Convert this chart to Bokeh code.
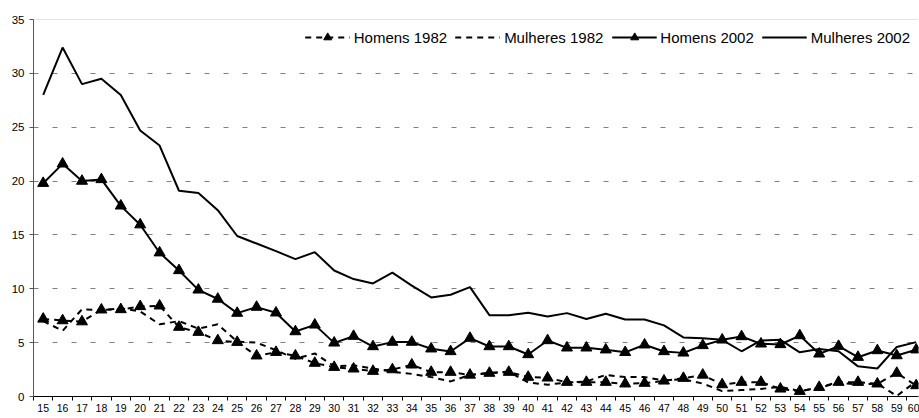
from bokeh.plotting import figure
from bokeh.models import FixedTicker, Span
from bokeh.embed import file_html
from bokeh.resources import INLINE

ages = list(range(15, 61))

homens_1982 = [7.2, 7.05, 6.95, 8.05, 8.08, 8.36, 8.42, 6.44, 5.97, 5.2,
               5.04, 3.78, 4.11, 3.78, 3.1, 2.72, 2.57, 2.35, 2.5, 2.94,
               2.26, 2.26, 2.0, 2.17, 2.26, 1.8, 1.73, 1.33, 1.33, 1.33,
               1.18, 1.24, 1.45, 1.7, 2.0, 1.11, 1.33, 1.33, 0.71, 0.49,
               0.86, 1.33, 1.33, 1.18, 2.17, 1.02]

mulheres_1982 = [7.0, 6.1, 8.1, 8.0, 8.2, 7.9, 6.7, 7.0, 6.3, 6.7,
                 5.1, 5.0, 4.3, 3.5, 4.0, 2.8, 2.9, 2.6, 2.3, 2.1,
                 1.8, 1.4, 2.0, 2.2, 2.3, 1.3, 1.1, 1.3, 1.4, 2.0,
                 1.8, 1.8, 1.5, 1.6, 1.2, 0.5, 0.6, 0.7, 0.9, 0.5,
                 0.8, 1.3, 1.1, 1.2, 0.05, 1.4]

homens_2002 = [19.8, 21.6, 20.0, 20.15, 17.7, 15.95, 13.35, 11.7, 9.9, 9.05,
               7.74, 8.3, 7.77, 6.03, 6.65, 4.98, 5.6, 4.64, 5.05, 5.05,
               4.43, 4.18, 5.42, 4.64, 4.64, 3.9, 5.2, 4.52, 4.52, 4.34,
               4.1, 4.8, 4.18, 4.05, 4.74, 5.26, 5.57, 4.89, 4.83, 5.66,
               3.96, 4.67, 3.65, 4.27, 3.8, 4.34]

mulheres_2002 = [28.0, 32.4, 29.0, 29.5, 28.0, 24.7, 23.3, 19.1, 18.9, 17.3,
                 14.9, 14.2, 13.5, 12.75, 13.4, 11.7, 10.9, 10.5, 11.5, 10.3,
                 9.2, 9.45, 10.15, 7.55, 7.55, 7.77, 7.43, 7.74, 7.2, 7.68,
                 7.15, 7.15, 6.6, 5.48, 5.4, 5.26, 4.2, 5.2, 5.26, 4.1,
                 4.4, 4.2, 2.8, 2.6, 4.6, 5.05]

y_ticks = [0, 5, 10, 15, 20, 25, 30, 35]

FONT = "Liberation Sans"

p = figure(width=919, height=418, output_backend="svg", toolbar_location=None,
           x_range=(14.5, 60.12), y_range=(0, 35),
           min_border_left=33, min_border_top=19, min_border_right=1,
           min_border_bottom=22)
p.outline_line_color = None
p.background_fill_color = "white"

p.xgrid.grid_line_color = None
p.ygrid.ticker = FixedTicker(ticks=y_ticks)
p.ygrid.grid_line_color = "#808080"
p.ygrid.grid_line_dash = "5 14"
p.ygrid.grid_line_width = 1

p.add_layout(Span(location=35, dimension="width", line_color="#c8c8c8", line_width=1))

p.xaxis.ticker = FixedTicker(ticks=ages, minor_ticks=[a - 0.5 for a in ages] + [60.5])
p.xaxis.major_tick_line_color = None
p.xaxis.major_tick_out = 0
p.xaxis.major_tick_in = 0
p.xaxis.minor_tick_out = 4
p.xaxis.minor_tick_in = 0
p.xaxis.minor_tick_line_color = "black"
p.xaxis.axis_line_color = "black"
p.xaxis.major_label_standoff = 3
p.xaxis.major_label_text_font = FONT
p.xaxis.major_label_text_font_size = "10.5px"
p.xaxis.major_label_text_color = "black"

p.yaxis.ticker = FixedTicker(ticks=y_ticks)
p.yaxis.minor_tick_line_color = None
p.yaxis.major_tick_out = 4
p.yaxis.major_tick_in = 0
p.yaxis.major_tick_line_color = "#555555"
p.yaxis.axis_line_color = "#555555"
p.yaxis.major_label_standoff = 5
p.yaxis.major_label_text_font = FONT
p.yaxis.major_label_text_font_size = "11.5px"
p.yaxis.major_label_text_color = "black"

lw = 2
p.line(ages, homens_1982, color="black", line_width=lw, line_dash="6 5", legend_label="Homens 1982")
p.scatter(ages, homens_1982, marker="triangle", size=11, color="black", legend_label="Homens 1982")
p.line(ages, mulheres_1982, color="black", line_width=lw, line_dash="6 5", legend_label="Mulheres 1982")
p.line(ages, homens_2002, color="black", line_width=lw, legend_label="Homens 2002")
p.scatter(ages, homens_2002, marker="triangle", size=11, color="black", legend_label="Homens 2002")
p.line(ages, mulheres_2002, color="black", line_width=lw, legend_label="Mulheres 2002")

lg = p.legend[0]
lg.orientation = "horizontal"
lg.location = "top_right"
lg.margin = 8
lg.padding = 0
lg.spacing = 8
lg.glyph_width = 45
lg.glyph_height = 20
lg.label_height = 20
lg.label_standoff = 4
lg.label_text_font = FONT
lg.label_text_font_size = "15px"
lg.label_text_color = "black"
lg.border_line_color = None
lg.background_fill_alpha = 0

open("out.html", "w").write(file_html(p, INLINE))
